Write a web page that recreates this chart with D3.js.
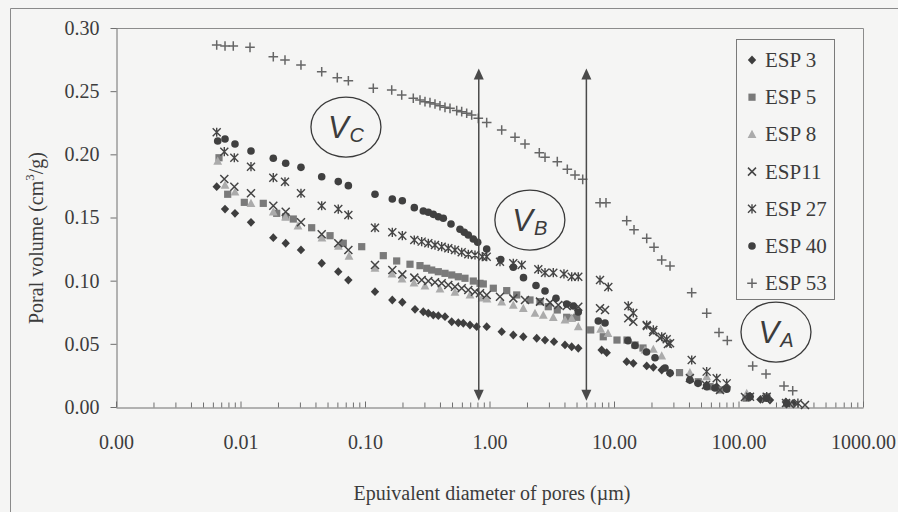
<!DOCTYPE html>
<html><head><meta charset="utf-8">
<script src="https://cdn.jsdelivr.net/npm/d3@7"></script>
<style>
html,body{margin:0;padding:0;background:#f5f5f4;}
svg{display:block;}
text{font-family:"Liberation Serif","Times New Roman",Tinos,Times,"DejaVu Serif","Noto Serif",serif;fill:#3c3c3c;}
</style></head>
<body>
<svg id="chart" width="898" height="512"></svg>
<script>
// ---- Data (x: equivalent pore diameter in µm, y: poral volume in cm3/g) ----
const seriesNames = ["ESP 3","ESP 5","ESP 8","ESP11","ESP 27","ESP 40","ESP 53"];

const esp3 = [[0.00644,0.1744],[0.00751,0.1567],[0.00903,0.1533],[0.01214,0.1462],[0.01834,0.1340],[0.02307,0.1296],[0.0306,0.1243],[0.0449,0.1138],[0.0610,0.1071],[0.0735,0.1005],[0.1203,0.0913],[0.1657,0.0847],[0.1994,0.0829],[0.2521,0.0773],[0.2939,0.0754],[0.3225,0.0742],[0.3537,0.0728],[0.388,0.0723],[0.439,0.0715],[0.4971,0.0675],[0.5617,0.0667],[0.6162,0.0663],[0.697,0.0649],[0.789,0.0636],[0.9495,0.0636],[1.253,0.0596],[1.553,0.0570],[1.868,0.0556],[2.394,0.0544],[2.792,0.0530],[3.296,0.0517],[4.04,0.0491],[4.573,0.0477],[5.165,0.0465],[7.96,0.0451],[8.74,0.0430],[12.65,0.0359],[14.29,0.0346],[18.31,0.0325],[20.7,0.0314],[24.16,0.0293],[28.2,0.0267],[40.7,0.0214],[47.3,0.019],[55.5,0.0174],[66.8,0.0161],[80.4,0.015],[123.7,0.0082],[150,0.006],[179,0.0055],[240,0.004],[274,0.0029]];

const esp5 = [[0.00672,0.1973],[0.00789,0.1684],[0.01073,0.1620],[0.01524,0.1612],[0.01953,0.1533],[0.02307,0.1506],[0.02655,0.1488],[0.0373,0.1419],[0.0524,0.1356],[0.0669,0.1296],[0.0941,0.1269],[0.1403,0.1198],[0.1797,0.1156],[0.2298,0.1130],[0.2765,0.1119],[0.3131,0.1098],[0.3434,0.1084],[0.388,0.1071],[0.439,0.1058],[0.4971,0.1045],[0.5617,0.1031],[0.6355,0.1019],[0.7411,0.0997],[0.839,0.0979],[0.8916,0.0974],[1.073,0.0940],[1.375,0.0921],[1.654,0.0887],[2.115,0.0847],[2.544,0.0834],[2.967,0.0794],[3.504,0.0768],[4.17,0.0710],[4.43,0.0702],[5.02,0.0710],[6.5,0.0610],[8.2,0.0556],[10.57,0.0530],[12.72,0.0530],[14.75,0.0491],[17.09,0.0467],[33.6,0.0272],[47.5,0.0200],[59.0,0.0161],[71.0,0.0135],[115,0.007],[168.5,0.0082],[243.8,0.0029]];

const esp8 = [[0.00656,0.1947],[0.00751,0.1757],[0.00903,0.1702],[0.01214,0.1612],[0.01834,0.1544],[0.02298,0.1504],[0.02896,0.1433],[0.0451,0.1338],[0.0612,0.1274],[0.0744,0.1195],[0.1203,0.1100],[0.1648,0.1053],[0.1983,0.1013],[0.2475,0.0982],[0.3033,0.0958],[0.4002,0.0934],[0.528,0.0910],[0.697,0.0887],[0.8706,0.0863],[0.9548,0.0855],[1.253,0.0831],[1.553,0.0807],[1.868,0.0781],[2.32,0.0742],[2.705,0.0728],[3.254,0.0710],[4.04,0.0689],[4.573,0.0702],[5.165,0.0636],[7.82,0.0617],[8.95,0.0583],[17.74,0.0451],[20.7,0.0457],[24.16,0.0404],[40.7,0.0272],[55.5,0.0240],[116.4,0.0108],[166.3,0.0071],[259,0.0024]];

const esp11 = [[0.00741,0.1805],[0.00892,0.1744],[0.01214,0.1692],[0.01834,0.1593],[0.02307,0.1546],[0.0306,0.1462],[0.0449,0.1367],[0.0610,0.1296],[0.0735,0.1243],[0.1203,0.1124],[0.1657,0.1084],[0.1994,0.1050],[0.2489,0.1024],[0.2853,0.1005],[0.3225,0.0997],[0.3649,0.0987],[0.413,0.0979],[0.4667,0.0966],[0.528,0.0952],[0.5979,0.0940],[0.6757,0.0926],[0.7647,0.0913],[0.839,0.0900],[0.9495,0.0887],[1.214,0.0873],[1.553,0.0860],[1.928,0.0847],[2.544,0.0834],[3.061,0.0826],[3.569,0.0807],[4.17,0.0800],[5.165,0.0794],[7.72,0.0781],[8.47,0.0768],[13.02,0.0702],[14.29,0.0675],[18.4,0.0641],[20.6,0.0594],[23.4,0.0546],[27.1,0.0499],[40.7,0.0230],[54.8,0.0174],[71.0,0.0135],[112.7,0.0079],[166.3,0.0063],[259,0.0024],[342,0.0016]];

const esp27 = [[0.00644,0.2175],[0.00741,0.2021],[0.00892,0.1973],[0.01214,0.1902],[0.01834,0.1815],[0.02277,0.1783],[0.0306,0.1692],[0.0449,0.1593],[0.0610,0.1567],[0.0735,0.1520],[0.1203,0.1419],[0.1657,0.1383],[0.1994,0.1356],[0.2489,0.1322],[0.2853,0.1309],[0.3225,0.1296],[0.3649,0.1282],[0.413,0.1269],[0.4667,0.1256],[0.528,0.1243],[0.5979,0.1225],[0.6757,0.1209],[0.7647,0.1203],[0.8754,0.1190],[0.9495,0.1190],[1.214,0.1150],[1.553,0.1138],[1.814,0.1124],[2.466,0.1090],[2.792,0.1063],[3.254,0.1063],[3.963,0.1053],[4.573,0.1031],[5.165,0.1031],[7.72,0.1005],[9.0,0.0950],[13.02,0.0800],[14.29,0.0744],[18.31,0.0649],[20.7,0.0610],[24.16,0.0556],[26.5,0.0536],[28.2,0.0504],[42.1,0.0372],[55.5,0.0280],[66.8,0.0227],[80.4,0.0187],[123.7,0.0082],[168.5,0.0082],[240.7,0.0032],[300,0.003]];

const esp40 = [[0.00656,0.2106],[0.00751,0.2121],[0.00903,0.2082],[0.01214,0.2026],[0.01834,0.1969],[0.02307,0.1929],[0.0306,0.1897],[0.0449,0.1823],[0.0610,0.1784],[0.0735,0.1752],[0.1203,0.1684],[0.1657,0.1647],[0.1994,0.1633],[0.2489,0.1578],[0.2939,0.1552],[0.3225,0.1541],[0.3537,0.1525],[0.388,0.1506],[0.4256,0.1494],[0.4907,0.1449],[0.5794,0.1407],[0.6273,0.1383],[0.6757,0.1362],[0.7411,0.1330],[0.8037,0.1304],[0.9495,0.1251],[1.230,0.1168],[1.553,0.1106],[1.875,0.1024],[2.363,0.0962],[2.792,0.0918],[3.42,0.0860],[4.17,0.0815],[4.71,0.0800],[5.165,0.0752],[7.48,0.0681],[8.47,0.0665],[12.95,0.0525],[14.75,0.0487],[18.24,0.0435],[21.35,0.0390],[25.7,0.0309],[28.2,0.0269],[40.7,0.0214],[47.3,0.0188],[55.5,0.0161],[64.7,0.0150],[80.4,0.0140],[123.7,0.0082],[168.5,0.0069],[243.8,0.0029]];

const esp53 = [[0.00644,0.2866],[0.00751,0.2858],[0.00875,0.2858],[0.01192,0.2847],[0.01834,0.2773],[0.02277,0.2747],[0.0306,0.2707],[0.0449,0.2654],[0.0599,0.2607],[0.0735,0.2583],[0.1166,0.2523],[0.1639,0.2509],[0.1972,0.2470],[0.2443,0.2444],[0.2765,0.2430],[0.3033,0.2417],[0.3326,0.2409],[0.3649,0.2398],[0.4002,0.2385],[0.439,0.2372],[0.4817,0.2364],[0.5452,0.2346],[0.5979,0.2338],[0.6558,0.2325],[0.7194,0.2311],[0.8128,0.2285],[0.9495,0.2251],[1.253,0.2193],[1.603,0.2135],[1.928,0.2082],[2.512,0.2013],[2.792,0.1977],[3.504,0.1942],[4.217,0.1882],[4.861,0.1837],[5.606,0.1802],[7.72,0.1617],[8.625,0.1617],[12.65,0.1475],[14.48,0.1403],[18.31,0.1335],[20.96,0.1264],[24.16,0.1164],[28.18,0.1116],[42.07,0.0905],[55.55,0.0743],[69.7,0.0590],[81.3,0.0526],[130,0.0325],[166.3,0.0261],[232,0.0166],[272.5,0.0129]];

const yTicks = [0, 0.05, 0.10, 0.15, 0.20, 0.25, 0.30];
const xDecades = [0.001, 0.01, 0.1, 1, 10, 100, 1000];
const xTickLabels = ["0.00","0.01","0.10","1.00","10.00","100.00","1000.00"];
const arrowX = [0.82, 6.0];
const arrowRange = [0.005, 0.268];
const regionLabels = ["C","B","A"];
const regionX = [0.0703, 2.11, 200];
const regionY = [0.2216, 0.148, 0.0593];

// ---- Layout ----
const SERIF = '"Liberation Serif","Times New Roman",Tinos,Times,"DejaVu Serif","Noto Serif",serif';
const svg = d3.select("#chart");
const L = 116, R = 863, T = 28, B = 407;
const x = d3.scaleLog().domain([0.001, 1000]).range([L, R]);
const y = d3.scaleLinear().domain([0, 0.30]).range([B, T]);
const axisColor = "#6e6e6e";

svg.append("path").attr("d", "M10.5,520 L10.5,8.5 L905,8.5").attr("fill","none").attr("stroke","#8a8a8a").attr("stroke-width",1);
svg.append("path").attr("d", `M${L},${T+0.5} L${R+0.5},${T+0.5} L${R+0.5},${B}`).attr("fill","none").attr("stroke","#8c8c8c").attr("stroke-width",1);

const yAxis = d3.axisLeft(y).tickValues(yTicks).tickFormat(d3.format(".2f")).tickSizeInner(6).tickSizeOuter(0).tickPadding(11);
const gy = svg.append("g").attr("transform", `translate(${L+0.5},0)`).call(yAxis);
gy.attr("font-family", SERIF);
gy.selectAll("path,line").attr("stroke", axisColor);
gy.selectAll("text").style("font-size","20px").style("font-family",SERIF).attr("fill","#3c3c3c");

const xAxis = d3.axisBottom(x).tickValues(xDecades).tickFormat((d,i)=>xTickLabels[i]).tickSizeInner(-6).tickSizeOuter(0).tickPadding(27);
const gx = svg.append("g").attr("transform", `translate(0,${B+0.5})`).call(xAxis);
gx.attr("font-family", SERIF);
gx.selectAll("path,line").attr("stroke", axisColor);
gx.selectAll("text").style("font-size","20px").style("font-family",SERIF).attr("fill","#3c3c3c");

const minor = [];
xDecades.slice(0,-1).forEach(d => { for (let k=2;k<=9;k++) minor.push(d*k); });
const xMinor = d3.axisBottom(x).tickValues(minor).tickFormat("").tickSizeInner(-5).tickSizeOuter(0);
const gxm = svg.append("g").attr("transform", `translate(0,${B+0.5})`).call(xMinor);
gxm.select(".domain").remove();
gxm.selectAll("line").attr("stroke", axisColor);

const yt = svg.append("text").attr("transform","translate(43,238) rotate(-90)").attr("text-anchor","middle").style("font-size","20px").style("font-family",SERIF);
yt.append("tspan").text("Poral volume (cm");
yt.append("tspan").text("3").style("font-size","13px").attr("dy","-9");
yt.append("tspan").text("/g)").attr("dy","9");

svg.append("text").attr("x", 492).attr("y", 500).attr("text-anchor","middle").style("font-size","20px").style("font-family",SERIF).text("Epuivalent diameter of pores (\u00b5m)");

function marker(sel, type, color) {
  if (type === "diamond") sel.append("path").attr("d","M0,-4.4L4.2,0L0,4.4L-4.2,0Z").attr("fill",color);
  else if (type === "square") sel.append("rect").attr("x",-3.6).attr("y",-3.6).attr("width",7.2).attr("height",7.2).attr("fill",color);
  else if (type === "triangle") sel.append("path").attr("d","M0,-4.6L4.4,3.6L-4.4,3.6Z").attr("fill",color);
  else if (type === "x") sel.append("path").attr("d","M-4,-4L4,4M-4,4L4,-4").attr("stroke",color).attr("stroke-width",1.5).attr("fill","none");
  else if (type === "star") sel.append("path").attr("d","M-4,-4L4,4M-4,4L4,-4M0,-4.6L0,4.6").attr("stroke",color).attr("stroke-width",1.4).attr("fill","none");
  else if (type === "circle") sel.append("circle").attr("r",3.8).attr("fill",color);
  else if (type === "plus") sel.append("path").attr("d","M-4.8,0L4.8,0M0,-4.8L0,4.8").attr("stroke",color).attr("stroke-width",1.5).attr("fill","none");
}

const seriesData = [esp3, esp5, esp8, esp11, esp27, esp40, esp53];
const seriesType = ["diamond","square","triangle","x","star","circle","plus"];
const seriesColor = ["#3e3e3e","#7a7a7a","#ababab","#444444","#454545","#404040","#666666"];

seriesData.forEach((data, si) => {
  const g = svg.append("g");
  data.forEach(d => {
    const m = g.append("g").attr("transform", `translate(${x(d[0])},${y(d[1])})`);
    marker(m, seriesType[si], seriesColor[si]);
  });
});

arrowX.forEach(v => {
  const ax = x(v), y1 = y(arrowRange[1]), y2 = y(arrowRange[0]);
  svg.append("line").attr("x1",ax).attr("x2",ax).attr("y1",y1+8).attr("y2",y2-8).attr("stroke","#4a4a4a").attr("stroke-width",1.5);
  svg.append("path").attr("d",`M${ax},${y1}L${ax+5},${y1+11}L${ax-5},${y1+11}Z`).attr("fill","#4a4a4a");
  svg.append("path").attr("d",`M${ax},${y2}L${ax+5},${y2-11}L${ax-5},${y2-11}Z`).attr("fill","#4a4a4a");
});

regionLabels.forEach((lab, i) => {
  const cx = x(regionX[i]), cy = y(regionY[i]);
  svg.append("ellipse").attr("cx",cx).attr("cy",cy).attr("rx",35).attr("ry",30).attr("fill","none").attr("stroke","#3a3a3a").attr("stroke-width",1.3);
  const t = svg.append("text").attr("x",cx).attr("y",cy+11).attr("text-anchor","middle")
    .style("font-family",'"Liberation Sans",Arial,sans-serif').style("font-style","italic").style("font-size","31px").attr("fill","#3a3a3a");
  t.append("tspan").text("V");
  t.append("tspan").text(lab).style("font-size","20px").attr("dy","4").attr("dx","1");
});

const lg = svg.append("g");
lg.append("rect").attr("x",736.5).attr("y",39.5).attr("width",98).attr("height",260).attr("fill","#f5f5f4").attr("stroke","#7a7a7a").attr("stroke-width",1);
seriesNames.forEach((name, i) => {
  const cy = 60 + i*37.2;
  const m = lg.append("g").attr("transform",`translate(752,${cy})`);
  marker(m, seriesType[i], seriesColor[i]);
  lg.append("text").attr("x",765).attr("y",cy+7).style("font-size","21px").style("font-family",SERIF).text(name);
});
</script>
</body></html>
